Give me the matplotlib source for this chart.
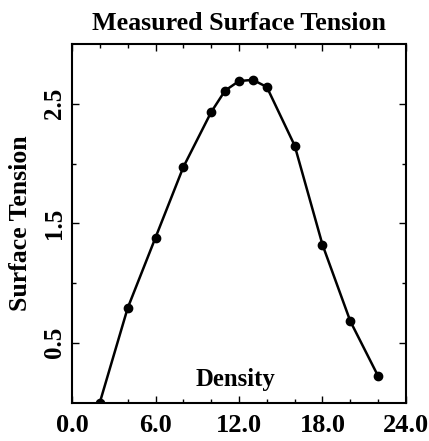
import matplotlib
matplotlib.use("Agg")
import matplotlib.pyplot as plt
from matplotlib.ticker import MultipleLocator, FixedLocator

density = [2, 4, 6, 8, 10, 11, 12, 13, 14, 16, 18, 20, 22]
tension = [0.0, 0.79, 1.38, 1.97, 2.43, 2.61, 2.69, 2.70, 2.64, 2.15, 1.32, 0.68, 0.22]
xtick_vals = [0, 6, 12, 18, 24]
xtick_labels = ["0.0", "6.0", "12.0", "18.0", "24.0"]
ytick_vals = [0.5, 1.5, 2.5]
ytick_labels = ["0.5", "1.5", "2.5"]

plt.rcParams['font.family'] = ['Liberation Serif', 'DejaVu Serif']
plt.rcParams['font.weight'] = 'bold'

fig = plt.figure(figsize=(4.29, 4.41), dpi=100)
ax = fig.add_axes([72/429, 1 - 402.5/441, 334/429, 358.5/441])
ax.plot(density, tension, color='black', lw=1.8, marker='o', ms=6)
ax.set_xlim(0, 24)
ax.set_ylim(0, 3.0)

ax.set_xticks(xtick_vals)
ax.set_xticklabels(xtick_labels, fontsize=19, fontweight='bold')
ax.xaxis.set_minor_locator(MultipleLocator(2))
ax.set_yticks(ytick_vals)
ax.set_yticklabels(ytick_labels, fontsize=18, fontweight='bold', rotation=90, va='center')
ax.yaxis.set_minor_locator(FixedLocator([1.0, 2.0]))
ax.tick_params(which='both', direction='in', top=True, right=True, width=1)
ax.tick_params(which='major', length=5)
ax.tick_params(axis='x', which='major', pad=8)
ax.tick_params(axis='y', which='major', pad=4)
ax.tick_params(which='minor', length=3)
for s in ax.spines.values():
    s.set_linewidth(1.5)

ax.set_title("Measured Surface Tension", fontsize=18.7, fontweight='bold', pad=10)
ax.set_ylabel("Surface Tension", fontsize=18.5, fontweight='bold', labelpad=8)
ax.text(0.49, 0.063, "Density", transform=ax.transAxes, ha='center', va='center',
        fontsize=17.8, fontweight='bold')

fig.savefig("out.png", dpi=100)
